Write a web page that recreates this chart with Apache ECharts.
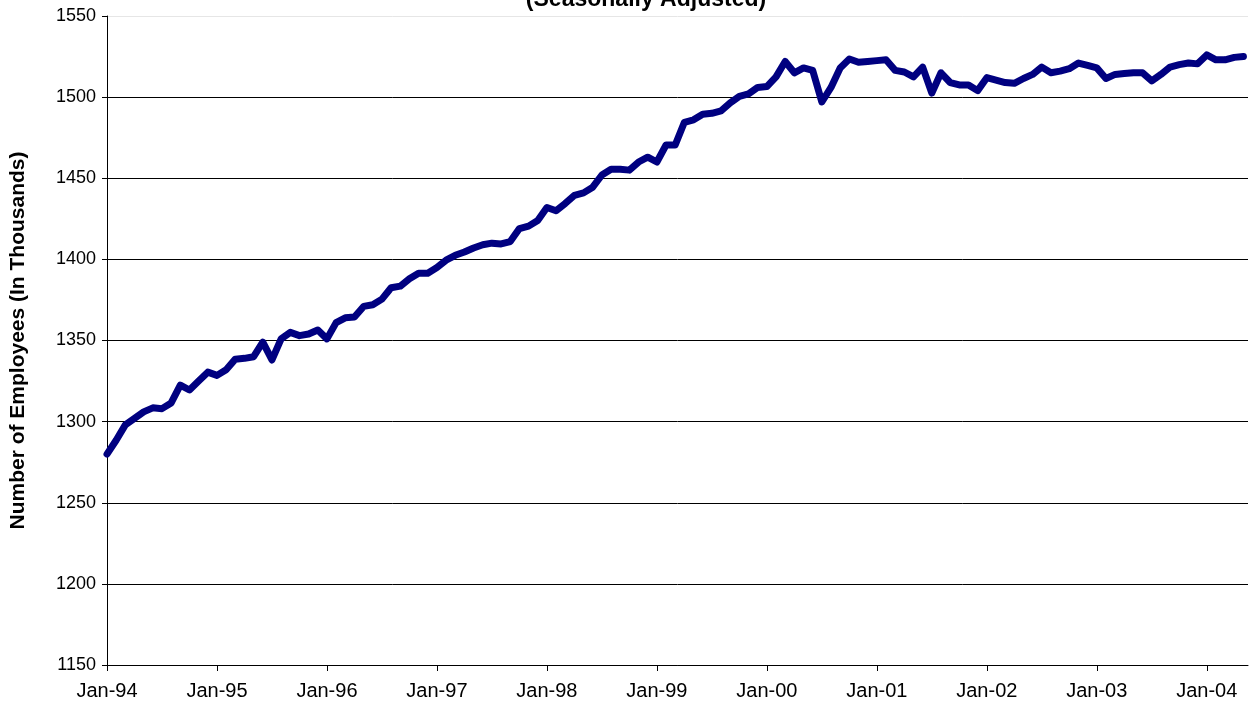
<!DOCTYPE html>
<html>
<head>
<meta charset="utf-8">
<script src="https://cdn.jsdelivr.net/npm/echarts@6/dist/echarts.min.js"></script>
<style>
  html, body { margin: 0; padding: 0; background: #fff; }
  #chart { width: 1254px; height: 712px; }
</style>
</head>
<body>
<div id="chart"></div>
<script>
// monthly, Jan-94 .. May-04 (thousands, seasonally adjusted)
const startYear = 1994;
const employees = [
  1280, 1288.5, 1298, 1302, 1306, 1308.5, 1308, 1311.5, 1322.5, 1319.5, 1325, 1330.5,
  1328.5, 1332, 1338.5, 1339, 1340, 1349, 1338, 1351, 1355, 1353, 1354, 1356.5,
  1351, 1361, 1364, 1364.5, 1371, 1372, 1375.5, 1382.5, 1383.5, 1388, 1391.5, 1391.5,
  1395, 1399.5, 1402.5, 1404.5, 1407, 1409, 1410, 1409.5, 1411, 1419, 1420.5, 1424,
  1432, 1430, 1434.5, 1439.5, 1441, 1444.5, 1452, 1455.5, 1455.5, 1455, 1460, 1463,
  1460, 1470.5, 1470.5, 1484.5, 1486, 1489.5, 1490, 1491.5, 1496.5, 1500.5, 1502, 1506,
  1506.5, 1512.5, 1522, 1515, 1518, 1516.5, 1497, 1506, 1518, 1523.5, 1521.5, 1522,
  1522.5, 1523, 1516.5, 1515.5, 1512.5, 1518.5, 1502.5, 1515, 1509, 1507.5, 1507.5, 1504,
  1512, 1510.5, 1509, 1508.5, 1511.5, 1514, 1518.5, 1515, 1516, 1517.5, 1521, 1519.5,
  1518, 1511.5, 1514, 1514.5, 1515, 1515, 1510, 1514, 1518.5, 1520, 1521, 1520.5,
  1526, 1523, 1523, 1524.5, 1525
];
const yTicks = { min: 1150, max: 1550, step: 50 };

const seriesData = employees.map((v, i) => [i, v]);

const chart = echarts.init(document.getElementById('chart'), null, { renderer: 'canvas' });

const font = '"Liberation Sans", Arial, sans-serif';

chart.setOption({
  backgroundColor: '#fff',
  animation: false,
  title: {
    text: '(Seasonally Adjusted)',
    left: 641,
    textAlign: 'center',
    top: -17,
    textStyle: { fontFamily: font, fontSize: 23, fontWeight: 'bold', color: '#000' }
  },
  grid: { left: 107, right: 6, top: 16, bottom: 47, containLabel: false, outerBoundsMode: 'none' },
  xAxis: {
    type: 'value',
    min: 0,
    max: 124.5,
    interval: 12,
    axisLine: { show: true, lineStyle: { color: '#000', width: 1 } },
    axisTick: { show: true, length: 6, lineStyle: { color: '#000' } },
    splitLine: { show: false },
    axisLabel: {
      fontFamily: font, fontSize: 20, color: '#000', margin: 16,
      showMaxLabel: false,
      formatter: v => 'Jan-' + String((startYear + v / 12) % 100).padStart(2, '0')
    }
  },
  yAxis: {
    type: 'value',
    min: yTicks.min,
    max: yTicks.max,
    interval: yTicks.step,
    name: 'Number of Employees (In Thousands)',
    nameLocation: 'middle',
    nameGap: 78,
    nameTextStyle: { fontFamily: font, fontSize: 21, fontWeight: 'bold', color: '#000' },
    axisLine: { show: true, lineStyle: { color: '#000', width: 1 } },
    axisTick: { show: true, length: 5, lineStyle: { color: '#000' } },
    axisLabel: {
      fontFamily: font, fontSize: 18, color: '#000', margin: 11,
      formatter: v => String(v)
    },
    splitLine: {
      show: true,
      lineStyle: {
        color: ['#000', '#000', '#000', '#000', '#000', '#000', '#000', '#000', '#e6e6e6'],
        width: 1
      }
    }
  },
  series: [{
    type: 'line',
    data: seriesData,
    showSymbol: false,
    lineStyle: { color: '#000080', width: 7, join: 'round', cap: 'round' },
    itemStyle: { color: '#000080' }
  }]
});
</script>
</body>
</html>
